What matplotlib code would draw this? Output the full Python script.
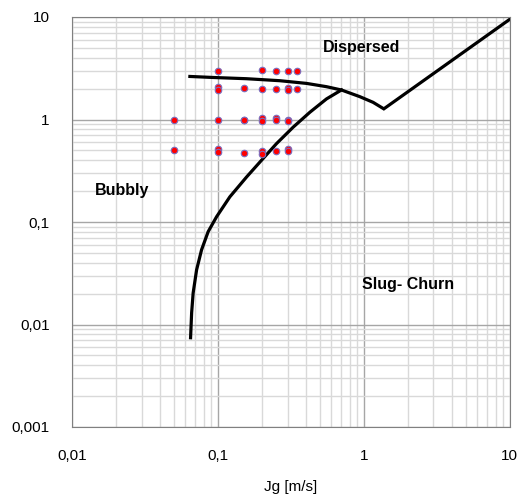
import matplotlib.pyplot as plt
from matplotlib.ticker import FixedLocator, FuncFormatter, LogLocator, NullFormatter

plt.rcParams['font.family'] = ['Liberation Sans', 'DejaVu Sans']

# Measured points (Jg, Jl)
jg_points = [0.1, 0.2, 0.25, 0.3, 0.35,
             0.1, 0.1, 0.15, 0.2, 0.25, 0.3, 0.3, 0.35,
             0.05, 0.1, 0.15, 0.15, 0.2, 0.2, 0.25, 0.25, 0.3, 0.3,
             0.05, 0.1, 0.1, 0.15, 0.2, 0.2, 0.25, 0.3, 0.3]
jl_points = [2.99, 3.03, 2.96, 2.96, 2.96,
             2.06, 1.96, 2.01, 2.0, 2.0, 2.05, 1.96, 2.0,
             0.99, 1.0, 1.0, 0.98, 1.04, 0.97, 1.03, 0.98, 0.99, 0.96,
             0.508, 0.515, 0.48, 0.475, 0.49, 0.46, 0.49, 0.51, 0.49]

# Bubbly -> slug boundary
bub_jg = [0.0650, 0.0661, 0.0677, 0.0715, 0.0773, 0.0858, 0.0980, 0.1208,
          0.1573, 0.199, 0.252, 0.328, 0.427, 0.555, 0.703]
bub_jl = [0.00743, 0.0130, 0.0203, 0.0342, 0.0535, 0.0805, 0.1126, 0.176,
          0.275, 0.400, 0.581, 0.842, 1.177, 1.588, 1.942]

# Dispersed boundary
disp_jg = [0.0643, 0.0929, 0.157, 0.266, 0.405, 0.555, 0.703, 0.939,
           1.158, 1.371, 10.0]
disp_jl = [2.63, 2.57, 2.50, 2.39, 2.25, 2.09, 1.94, 1.67, 1.47, 1.27, 9.5]

fig = plt.figure(figsize=(5.25, 5.0), dpi=100)
ax = fig.add_axes([0.137, 0.146, 0.834, 0.82])

ax.set_xscale('log')
ax.set_yscale('log')
ax.set_xlim(0.01, 10)
ax.set_ylim(0.001, 10)

ax.xaxis.set_minor_locator(LogLocator(base=10, subs=range(2, 10)))
ax.yaxis.set_minor_locator(LogLocator(base=10, subs=range(2, 10)))
ax.xaxis.set_minor_formatter(NullFormatter())
ax.yaxis.set_minor_formatter(NullFormatter())
ax.xaxis.set_major_locator(FixedLocator([0.01, 0.1, 1, 10]))
ax.yaxis.set_major_locator(FixedLocator([0.001, 0.01, 0.1, 1, 10]))
fmt = FuncFormatter(lambda v, p: ('%g' % v).replace('.', ','))
ax.xaxis.set_major_formatter(fmt)
ax.yaxis.set_major_formatter(fmt)

ax.grid(True, which='major', color='#a6a6a6', linewidth=1.0)
ax.grid(True, which='minor', color='#d9d9d9', linewidth=1.0)
ax.set_axisbelow(True)
ax.tick_params(which='both', length=0, labelsize=11, pad=16)
for s in ax.spines.values():
    s.set_color('#808080')

ax.plot(bub_jg, bub_jl, color='black', linewidth=2.3, solid_joinstyle='round')
ax.plot(disp_jg, disp_jl, color='black', linewidth=2.3, solid_joinstyle='miter')

ax.scatter(jg_points, jl_points, s=22, color='#ff0000', edgecolors='#7a6fc0',
           linewidths=0.8, zorder=3)

ax.text(0.97, 5.0, 'Dispersed', fontsize=11.5, fontweight='bold', ha='center', va='center')
ax.text(0.022, 0.205, 'Bubbly', fontsize=11.5, fontweight='bold', ha='center', va='center')
ax.text(2.0, 0.0244, 'Slug- Churn', fontsize=11.5, fontweight='bold', ha='center', va='center')

ax.set_xlabel('Jg [m/s]', fontsize=11, labelpad=12)

fig.savefig('out.png', dpi=100)
